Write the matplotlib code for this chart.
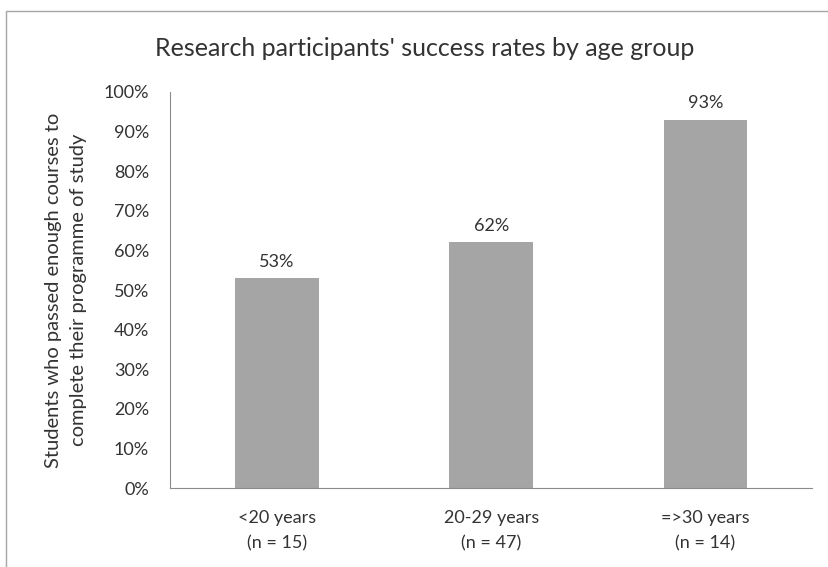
import matplotlib.pyplot as plt
from matplotlib.patches import Rectangle
from matplotlib.ticker import PercentFormatter

plt.rcParams['font.family'] = ['Lato', 'DejaVu Sans']

# Data
groups = ['<20 years\n(n = 15)', '20-29 years\n(n = 47)', '=>30 years\n(n = 14)']
rates = [53, 62, 93]
labels = ['53%', '62%', '93%']

fig = plt.figure(figsize=(8.29, 5.67), dpi=100)
ax = fig.add_axes([0.205, 0.139, 0.775, 0.699])

x = range(len(groups))
bars = ax.bar(x, rates, width=0.39, color='#a5a5a5')
for b, lab in zip(bars, labels):
    ax.annotate(lab, (b.get_x() + b.get_width() / 2, b.get_height()),
                xytext=(0, 6), textcoords='offset points',
                ha='center', va='bottom', fontsize=13, color='#333333')

ax.set_xlim(-0.5, 2.5)
ax.set_ylim(0, 100)
ax.set_yticks(range(0, 101, 10))
ax.yaxis.set_major_formatter(PercentFormatter(decimals=0))
ax.set_xticks(list(x))
ax.set_xticklabels(groups, linespacing=1.65)
ax.tick_params(length=0, labelsize=13, labelcolor='#333333')
ax.tick_params(axis='x', pad=16)
ax.tick_params(axis='y', pad=15)

for s in ['top', 'right']:
    ax.spines[s].set_visible(False)
for s in ['left', 'bottom']:
    ax.spines[s].set_color('#8c8c8c')

ax.set_ylabel('Students who passed enough courses to\ncomplete their programme of study',
              fontsize=14.5, color='#333333', labelpad=12, linespacing=1.55)

fig.text(0.512, 0.915, "Research participants' success rates by age group",
         ha='center', va='center', fontsize=18, color='#333333')

# outer chart frame
fig.patches.append(Rectangle((6 / 829, -0.1), 1.2, 1 - 11 / 567 + 0.1,
                             transform=fig.transFigure, fill=False,
                             edgecolor='#a6a6a6', linewidth=1))

plt.savefig('out.png', dpi=100)
